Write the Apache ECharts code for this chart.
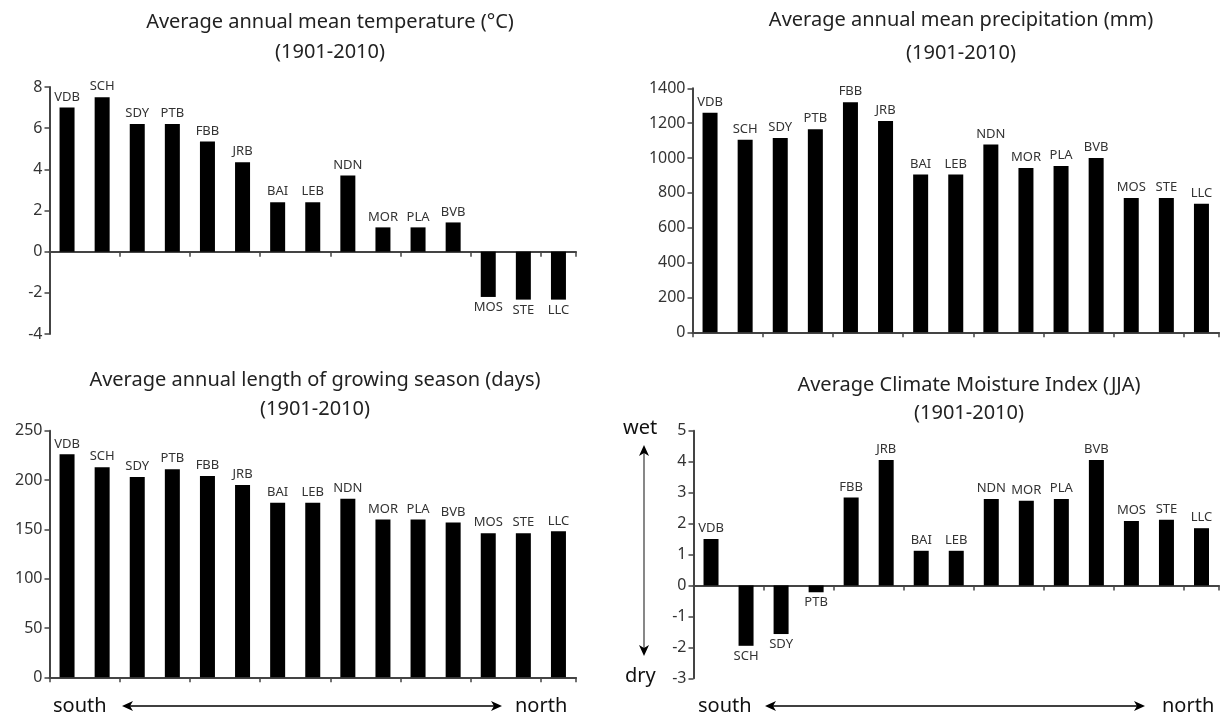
<!DOCTYPE html>
<html><head><meta charset="utf-8">
<script src="https://cdn.jsdelivr.net/npm/echarts@6/dist/echarts.min.js"></script>
<style>html,body{margin:0;padding:0;background:#fff}#c{width:1220px;height:720px}</style>
</head><body><div id="c"></div>
<script>
// ---- data ----
const stations = ['VDB','SCH','SDY','PTB','FBB','JRB','BAI','LEB','NDN','MOR','PLA','BVB','MOS','STE','LLC'];
const temperature = [7.0,7.5,6.2,6.2,5.35,4.35,2.4,2.4,3.7,1.18,1.18,1.42,-2.2,-2.33,-2.33];
const precipitation = [1260,1105,1115,1165,1320,1212,905,905,1078,943,954,1000,770,770,738];
const growingSeason = [226,213,203,211,204,195,177,177,181,160,160,157,146,146,148];
const moistureIndex = [1.5,-1.95,-1.57,-0.22,2.84,4.05,1.12,1.12,2.79,2.74,2.79,4.05,2.08,2.12,1.85];
const titles = [
  'Average annual mean temperature (°C)\n(1901-2010)',
  'Average annual mean precipitation (mm)\n(1901-2010)',
  'Average annual length of growing season (days)\n(1901-2010)',
  'Average Climate Moisture Index (JJA)\n(1901-2010)'
];
const yScales = [
  {min:-4, max:8, interval:2},
  {min:0, max:1400, interval:200},
  {min:0, max:250, interval:50},
  {min:-3, max:5, interval:1}
];
const directionLabels = ['south','north','wet','dry'];

// ---- layout ----
const FONT = 'Noto Sans';
const grids = [
  {left:49.5, top:87, width:526.5, height:247},
  {left:692.5, top:88.3, width:526.5, height:244},
  {left:49.5, top:430.7, width:526.5, height:246.6},
  {left:693.5, top:430.7, width:525.5, height:247.6}
];
const titlePos = [
  {x:330, top:7, lh:30},
  {x:961, top:4, lh:33},
  {x:315, top:366, lh:29},
  {x:969, top:371, lh:28}
];
const seriesData = [temperature, precipitation, growingSeason, moistureIndex];

const option = {
  animation:false,
  backgroundColor:'#fff',
  title: titles.map((t,i)=>({
    text:t, left:titlePos[i].x, top:titlePos[i].top, textAlign:'center', padding:0,
    textStyle:{fontFamily:FONT, fontSize:20, fontWeight:'normal', color:'#222', lineHeight:titlePos[i].lh}
  })),
  grid: grids.map(g=>Object.assign({containLabel:false}, g)),
  xAxis: grids.map((g,i)=>({
    type:'category', gridIndex:i, data:stations, boundaryGap:true,
    axisLine:{onZero:true, lineStyle:{color:'#444', width:2}},
    axisTick:{show:true, inside:false, length:5, alignWithLabel:false, lineStyle:{color:'#444', width:1.5}},
    axisLabel:{show:false}, splitLine:{show:false}
  })),
  yAxis: yScales.map((s,i)=>({
    type:'value', gridIndex:i, min:s.min, max:s.max, interval:s.interval,
    axisLine:{show:true, onZero:false, lineStyle:{color:'#444', width:2}},
    axisTick:{show:true, length:5, lineStyle:{color:'#444', width:1.5}},
    axisLabel:{fontFamily:FONT, fontSize:16, color:'#333', margin:7, formatter:v=>String(v)},
    splitLine:{show:false}
  })),
  series: seriesData.map((arr,i)=>({
    type:'bar', xAxisIndex:i, yAxisIndex:i, barWidth:15,
    itemStyle:{color:'#000'},
    data: arr.map(v=>({value:v, label:{position: v<0 ? 'bottom' : 'top'}})),
    label:{show:true, formatter:'{b}', fontFamily:FONT, fontSize:13, color:'#333', distance:4}
  })),
  graphic: []
};

function hArrow(x1,x2,y){
  const h=5, w=11;
  return {type:'group', children:[
    {type:'line', shape:{x1:x1+w-3,y1:y,x2:x2-w+3,y2:y}, style:{stroke:'#000', lineWidth:1.4}},
    {type:'polygon', shape:{points:[[x1,y],[x1+w,y-h],[x1+w-3,y],[x1+w,y+h]]}, style:{fill:'#000'}},
    {type:'polygon', shape:{points:[[x2,y],[x2-w,y-h],[x2-w+3,y],[x2-w,y+h]]}, style:{fill:'#000'}}
  ]};
}
function vArrow(x,y1,y2){
  const h=5, w=11;
  return {type:'group', children:[
    {type:'line', shape:{x1:x,y1:y1+w-3,x2:x,y2:y2-w+3}, style:{stroke:'#555', lineWidth:1.4}},
    {type:'polygon', shape:{points:[[x,y1],[x-h,y1+w],[x,y1+w-3],[x+h,y1+w]]}, style:{fill:'#000'}},
    {type:'polygon', shape:{points:[[x,y2],[x-h,y2-w],[x,y2-w+3],[x+h,y2-w]]}, style:{fill:'#000'}}
  ]};
}
function txt(s,x,y,align){
  return {type:'text', x:x, y:y, style:{text:s, font:'20px "'+FONT+'"', fill:'#111', textAlign:align||'left', textVerticalAlign:'middle'}};
}
option.graphic = [
  txt(directionLabels[0], 53, 706), hArrow(122, 502, 706), txt(directionLabels[1], 515, 706),
  txt(directionLabels[0], 698, 706), hArrow(765, 1145, 706), txt(directionLabels[1], 1162, 706),
  txt(directionLabels[2], 623, 428), txt(directionLabels[3], 625, 676), vArrow(644, 445, 656)
];

const chart = echarts.init(document.getElementById('c'));
chart.setOption(option);
</script>
</body></html>
